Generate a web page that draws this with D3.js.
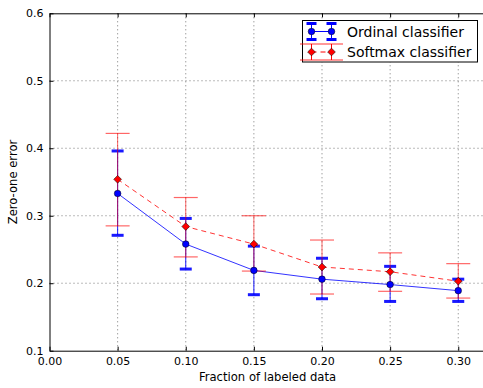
<!DOCTYPE html>
<html>
<head>
<meta charset="utf-8">
<script src="https://cdn.jsdelivr.net/npm/d3@7"></script>
<style>
  body { margin: 0; background: #fff; }
  svg { display: block; font-family: "DejaVu Sans", sans-serif; }
</style>
</head>
<body>
<div class="chart"></div>
<script>
var fractions = [0.05, 0.10, 0.15, 0.20, 0.25, 0.30];

var ordinalMean = [0.333, 0.258, 0.219, 0.206, 0.198, 0.189];
var ordinalLow  = [0.271, 0.221, 0.183, 0.177, 0.173, 0.173];
var ordinalHigh = [0.396, 0.296, 0.255, 0.237, 0.225, 0.206];

var softmaxMean = [0.354, 0.284, 0.258, 0.224, 0.217, 0.203];
var softmaxLow  = [0.285, 0.239, 0.218, 0.184, 0.188, 0.178];
var softmaxHigh = [0.422, 0.327, 0.300, 0.264, 0.245, 0.229];

var xTicks = [0.00, 0.05, 0.10, 0.15, 0.20, 0.25, 0.30];
var yTicks = [0.1, 0.2, 0.3, 0.4, 0.5, 0.6];

var width = 483, height = 388;
var margin = {left: 49.5, top: 13.3, right: -2.5, bottom: 37.3};

var svg = d3.select(".chart").append("svg")
  .attr("width", width)
  .attr("height", height);

var x = d3.scaleLinear().domain([0, 0.32]).range([margin.left, width - margin.right]);
var y = d3.scaleLinear().domain([0.1, 0.6]).range([height - margin.bottom, margin.top]);

// grid
var grid = svg.append("g").attr("stroke", "#555").attr("stroke-dasharray", "1,3").attr("stroke-width", 0.8);
grid.selectAll("line.gx").data(xTicks.slice(1)).enter().append("line")
  .attr("x1", function(d) { return x(d); })
  .attr("x2", function(d) { return x(d); })
  .attr("y1", y(0.6)).attr("y2", y(0.1));
grid.selectAll("line.gy").data(yTicks.slice(1, -1)).enter().append("line")
  .attr("y1", function(d) { return y(d); })
  .attr("y2", function(d) { return y(d); })
  .attr("x1", x(0)).attr("x2", x(0.32));

// axes (classic style: ticks inside, on both sides)
var bottomAxis = svg.append("g")
  .attr("transform", "translate(0," + y(0.1) + ")")
  .call(d3.axisBottom(x).tickValues(xTicks).tickFormat(d3.format(".2f")).tickSizeInner(-4).tickSizeOuter(0).tickPadding(7));
var leftAxis = svg.append("g")
  .attr("transform", "translate(" + x(0) + ",0)")
  .call(d3.axisLeft(y).tickValues(yTicks).tickFormat(d3.format(".1f")).tickSizeInner(-4).tickSizeOuter(0).tickPadding(6));
svg.append("g")
  .attr("transform", "translate(0," + y(0.6) + ")")
  .call(d3.axisTop(x).tickValues(xTicks).tickFormat("").tickSizeInner(-4).tickSizeOuter(0));

[bottomAxis, leftAxis].forEach(function(a) {
  a.selectAll("text").attr("font-size", "11px").attr("fill", "#000").attr("font-family", "DejaVu Sans, sans-serif");
});
svg.selectAll(".domain").attr("stroke", "#000").attr("stroke-width", 1);
svg.selectAll(".tick line").attr("stroke", "#000");

svg.append("text")
  .attr("x", x(0.16)).attr("y", 381)
  .attr("text-anchor", "middle")
  .attr("font-size", "11.6px")
  .text("Fraction of labeled data");
svg.append("text")
  .attr("transform", "translate(17," + y(0.35) + ") rotate(-90)")
  .attr("text-anchor", "middle")
  .attr("font-size", "11.6px")
  .text("Zero-one error");

var ordinal = fractions.map(function(f, i) {
  return {x: f, m: ordinalMean[i], lo: ordinalLow[i], hi: ordinalHigh[i]};
});
var softmax = fractions.map(function(f, i) {
  return {x: f, m: softmaxMean[i], lo: softmaxLow[i], hi: softmaxHigh[i]};
});

var line = d3.line()
  .x(function(d) { return x(d.x); })
  .y(function(d) { return y(d.m); });

var drawErrors = function(data, color, opacity, capHalf, capWidth) {
  var g = svg.append("g").attr("stroke", color).attr("stroke-opacity", opacity);
  g.selectAll("line.v").data(data).enter().append("line")
    .attr("x1", function(d) { return x(d.x); })
    .attr("x2", function(d) { return x(d.x); })
    .attr("y1", function(d) { return y(d.lo); })
    .attr("y2", function(d) { return y(d.hi); })
    .attr("stroke-width", 1);
  ["lo", "hi"].forEach(function(k) {
    g.selectAll("line.c" + k).data(data).enter().append("line")
      .attr("x1", function(d) { return x(d.x) - capHalf; })
      .attr("x2", function(d) { return x(d.x) + capHalf; })
      .attr("y1", function(d) { return y(d[k]); })
      .attr("y2", function(d) { return y(d[k]); })
      .attr("stroke-width", capWidth);
  });
};

// ordinal series
svg.append("path").datum(ordinal)
  .attr("d", line)
  .attr("fill", "none")
  .attr("stroke", "#00f")
  .attr("stroke-opacity", 0.8)
  .attr("stroke-width", 1);
drawErrors(ordinal, "#00f", 0.9, 6, 3);

// softmax series
svg.append("path").datum(softmax)
  .attr("d", line)
  .attr("fill", "none")
  .attr("stroke", "#f00")
  .attr("stroke-opacity", 0.8)
  .attr("stroke-dasharray", "5,4")
  .attr("stroke-width", 1);
drawErrors(softmax, "#f00", 0.6, 12, 1.2);

svg.append("g").selectAll("circle").data(ordinal).enter().append("circle")
  .attr("cx", function(d) { return x(d.x); })
  .attr("cy", function(d) { return y(d.m); })
  .attr("r", 3.3)
  .attr("fill", "#00f")
  .attr("stroke", "#000")
  .attr("stroke-width", 0.5);

var diamond = d3.symbol().type(d3.symbolSquare).size(30);
svg.append("g").selectAll("path").data(softmax).enter().append("path")
  .attr("d", diamond)
  .attr("transform", function(d) { return "translate(" + x(d.x) + "," + y(d.m) + ") rotate(45)"; })
  .attr("fill", "#f00")
  .attr("stroke", "#000")
  .attr("stroke-width", 0.5);

// legend
var legend = svg.append("g");
legend.append("rect")
  .attr("x", 302.5).attr("y", 20.5)
  .attr("width", 175).attr("height", 41.5)
  .attr("fill", "#fff")
  .attr("stroke", "#000");

var ly1 = 31.5, ly2 = 52;
// ordinal entry
legend.append("line").attr("x1", 311.5).attr("x2", 331.5).attr("y1", ly1).attr("y2", ly1)
  .attr("stroke", "#00f").attr("stroke-width", 1);
[311.5, 331.5].forEach(function(cx) {
  legend.append("line").attr("x1", cx).attr("x2", cx).attr("y1", ly1 - 8).attr("y2", ly1 + 8)
    .attr("stroke", "#00f").attr("stroke-width", 1);
  [ly1 - 8, ly1 + 8].forEach(function(cy) {
    legend.append("line").attr("x1", cx - 5).attr("x2", cx + 5).attr("y1", cy).attr("y2", cy)
      .attr("stroke", "#00f").attr("stroke-width", 3);
  });
  legend.append("circle").attr("cx", cx).attr("cy", ly1).attr("r", 3.3)
    .attr("fill", "#00f").attr("stroke", "#000").attr("stroke-width", 0.5);
});
legend.append("text").attr("x", 347).attr("y", ly1 + 5).attr("font-size", "14px").text("Ordinal classifier");

// softmax entry
legend.append("line").attr("x1", 311.5).attr("x2", 331.5).attr("y1", ly2).attr("y2", ly2)
  .attr("stroke", "#f00").attr("stroke-dasharray", "5,4").attr("stroke-width", 1);
[ly2 - 8, ly2 + 8].forEach(function(cy) {
  legend.append("line").attr("x1", 300).attr("x2", 343).attr("y1", cy).attr("y2", cy)
    .attr("stroke", "#f00").attr("stroke-opacity", 0.8).attr("stroke-width", 1);
});
[311.5, 331.5].forEach(function(cx) {
  legend.append("line").attr("x1", cx).attr("x2", cx).attr("y1", ly2 - 8).attr("y2", ly2 + 8)
    .attr("stroke", "#f00").attr("stroke-width", 1);
  legend.append("path").attr("d", diamond)
    .attr("transform", "translate(" + cx + "," + ly2 + ") rotate(45)")
    .attr("fill", "#f00").attr("stroke", "#000").attr("stroke-width", 0.5);
});
legend.append("text").attr("x", 347).attr("y", ly2 + 5).attr("font-size", "14px").text("Softmax classifier");
</script>
</body>
</html>
